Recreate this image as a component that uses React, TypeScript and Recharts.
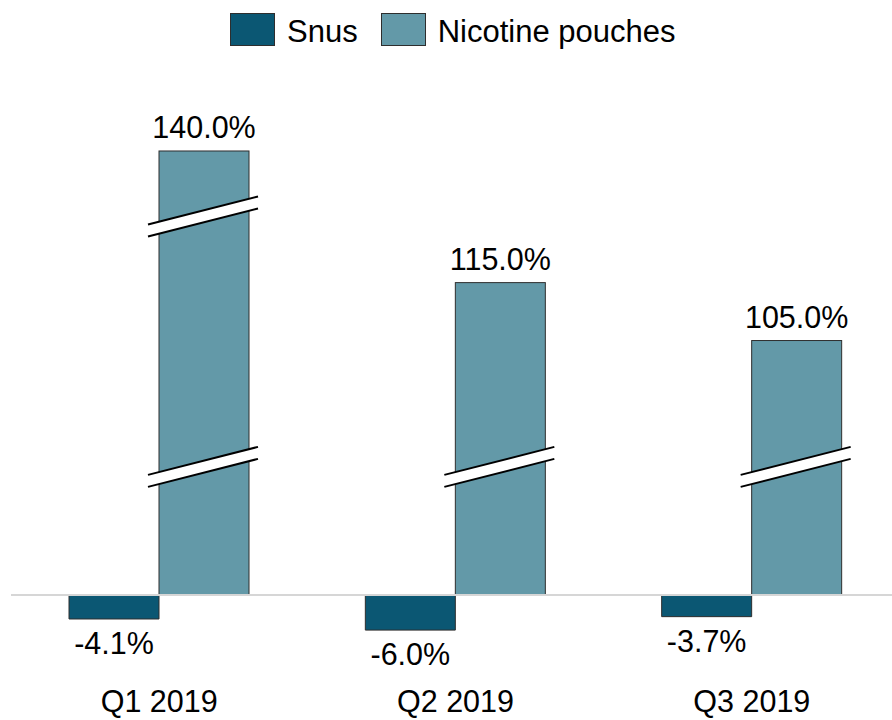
import React from 'react';
import { BarChart, Bar, XAxis, YAxis, ReferenceLine, LabelList, Legend } from 'recharts';

const categories = ['Q1 2019', 'Q2 2019', 'Q3 2019'];
const seriesNames = ['Snus', 'Nicotine pouches'];
const snusValues = [-4.1, -6.0, -3.7];
const nicotineValues = [140.0, 115.0, 105.0];
// bar heights as drawn on the broken axis (same units as the unbroken negative part)
const nicotineDrawn = [75.9, 53.4, 43.5];
// where the axis-break marks sit on each nicotine bar (drawn units)
const nicotineBreaks = [[21.9, 64.7], [21.9], [21.9]];

const data = categories.map((c, i) => ({
  category: c,
  snus: snusValues[i],
  nicotine: nicotineValues[i],
  nicotineDrawn: nicotineDrawn[i],
  breaks: nicotineBreaks[i],
}));

const FONT = '"Liberation Sans", Arial, Helvetica, sans-serif';
const SNUS_COLOR = '#0b5773';
const NIC_COLOR = '#6399a8';
const BORDER = '#2e2e2e';

const fmt = (v: number) => `${v.toFixed(1)}%`;

const NicotineShape = (props: any) => {
  const { x, y, width, height, payload } = props;
  const top = Math.min(y, y + height);
  const bottom = Math.max(y, y + height);
  const h = bottom - top;
  const ppu = h / payload.nicotineDrawn;
  const x1 = x - 11;
  const x2 = x + width + 9;
  return (
    <g>
      <rect x={x} y={top} width={width} height={h} fill={NIC_COLOR} stroke={BORDER} strokeWidth={1} />
      {payload.breaks.map((b: number, i: number) => {
        const cy = bottom - b * ppu;
        const l = cy + 14;
        const r = cy - 14;
        return (
          <g key={i}>
            <polygon points={`${x1},${l - 6} ${x2},${r - 6} ${x2},${r + 6} ${x1},${l + 6}`} fill="#ffffff" />
            <line x1={x1} y1={l - 6} x2={x2} y2={r - 6} stroke="#000" strokeWidth={2} />
            <line x1={x1} y1={l + 6} x2={x2} y2={r + 6} stroke="#000" strokeWidth={2} />
          </g>
        );
      })}
    </g>
  );
};

const TopLabel = (props: any) => {
  const { x, y, width, height, value } = props;
  const top = Math.min(y, y + height);
  return (
    <text x={x + width / 2} y={top - 13} textAnchor="middle" fontSize={30.5} fontFamily={FONT} fill="#000">
      {fmt(Number(value))}
    </text>
  );
};

const BottomLabel = (props: any) => {
  const { x, y, width, height, value } = props;
  const bottom = Math.max(y, y + height);
  return (
    <text x={x + width / 2} y={bottom + 35} textAnchor="middle" fontSize={30.5} fontFamily={FONT} fill="#000">
      {fmt(Number(value))}
    </text>
  );
};

const CategoryTick = (props: any) => {
  const { x, payload } = props;
  return (
    <text x={x} y={712} textAnchor="middle" fontSize={30.5} fontFamily={FONT} fill="#000">
      {payload.value}
    </text>
  );
};

const LegendContent = (props: any) => {
  const items = [...(props.payload || [])].sort(
    (a: any, b: any) => seriesNames.indexOf(a.value) - seriesNames.indexOf(b.value)
  );
  return (
    <div style={{ display: 'flex', alignItems: 'center', height: 33, fontFamily: FONT, fontSize: 31, color: '#000' }}>
      {items.map((p: any, i: number) => (
        <div key={i} style={{ display: 'flex', alignItems: 'center', marginRight: i === 0 ? 23 : 0 }}>
          <div
            style={{
              width: 45,
              height: 33,
              boxSizing: 'border-box',
              background: p.color,
              border: `1px solid ${BORDER}`,
              marginRight: 12,
            }}
          />
          <span style={{ lineHeight: '33px', whiteSpace: 'nowrap', position: 'relative', top: 2 }}>{p.value}</span>
        </div>
      ))}
    </div>
  );
};

export default function App() {
  return (
    <div style={{ position: 'absolute', left: 0, top: 0, width: 892, height: 720, overflow: 'hidden', background: '#fff' }}>
      <BarChart
        width={900}
        height={720}
        data={data}
        margin={{ top: 94, right: 0, left: 11, bottom: 6.5 }}
        barSize={90}
        barGap={0}
      >
        <Legend
          verticalAlign="top"
          align="left"
          content={<LegendContent />}
          wrapperStyle={{ top: 13, left: 230, width: 500, height: 33 }}
        />
        <XAxis dataKey="category" axisLine={false} tickLine={false} height={60} interval={0} tick={<CategoryTick />} />
        <YAxis hide domain={[-10, 80]} type="number" allowDataOverflow />
        <ReferenceLine y={0} stroke="#d6d6d6" strokeWidth={2} />
        <Bar dataKey="snus" name={seriesNames[0]} fill={SNUS_COLOR} stroke={BORDER} strokeWidth={1} isAnimationActive={false}>
          <LabelList dataKey="snus" content={<BottomLabel />} />
        </Bar>
        <Bar dataKey="nicotineDrawn" name={seriesNames[1]} fill={NIC_COLOR} stroke={BORDER} shape={<NicotineShape />} isAnimationActive={false}>
          <LabelList dataKey="nicotine" content={<TopLabel />} />
        </Bar>
      </BarChart>
    </div>
  );
}
